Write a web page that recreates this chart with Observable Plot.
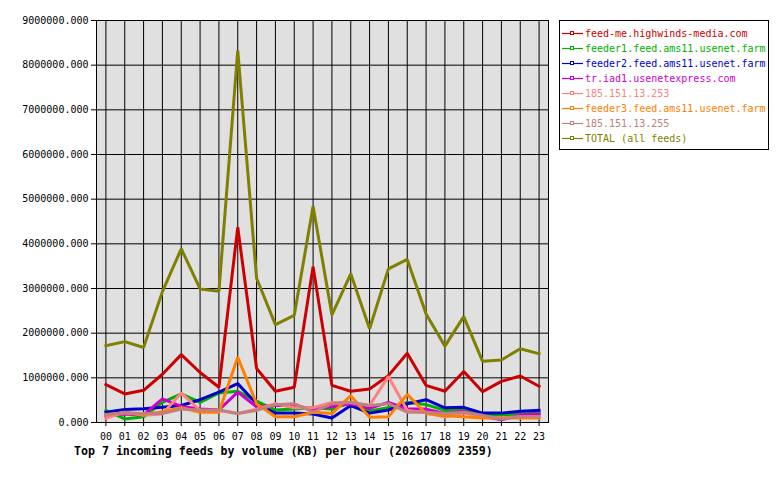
<!DOCTYPE html>
<html>
<head>
<meta charset="utf-8">
<script src="https://cdn.jsdelivr.net/npm/d3@7"></script>
<script src="https://cdn.jsdelivr.net/npm/@observablehq/plot@0.6"></script>
<style>
  html, body { margin: 0; padding: 0; background: #fff; }
  #wrap { position: relative; width: 780px; height: 480px; overflow: hidden; font-family: "DejaVu Sans Mono", monospace; }
  #title { position: absolute; left: 74px; top: 444px; font-size: 11.6px; font-weight: bold; white-space: nowrap; color: #000; }
  #legend { position: absolute; left: 559px; top: 20px; width: 210px; height: 130px; border: 1px solid #000; background: #fff; box-sizing: border-box; padding-top: 5px; }
  .row { height: 15px; display: flex; align-items: center; font-size: 10px; white-space: nowrap; }
  .row svg { margin-left: 2px; margin-right: 2px; flex: none; }
</style>
</head>
<body>
<div id="wrap">
  <div id="chart"></div>
  <div id="legend"></div>
  <div id="title">Top 7 incoming feeds by volume (KB) per hour (20260809 2359)</div>
</div>
<script>
const hours = d3.range(0, 24);
const hourLabels = ["00","01","02","03","04","05","06","07","08","09","10","11","12","13","14","15","16","17","18","19","20","21","22","23"];
const yTicks = [0, 1000000, 2000000, 3000000, 4000000, 5000000, 6000000, 7000000, 8000000, 9000000];

const seriesNames = [
  "feed-me.highwinds-media.com",
  "feeder1.feed.ams11.usenet.farm",
  "feeder2.feed.ams11.usenet.farm",
  "tr.iad1.usenetexpress.com",
  "185.151.13.253",
  "feeder3.feed.ams11.usenet.farm",
  "185.151.13.255",
  "TOTAL (all feeds)"
];
const seriesColors = ["#cc0000", "#00b000", "#0000cc", "#cc00cc", "#ff8080", "#ff8000", "#c08080", "#808000"];

const feedMe   = [850000,640000,720000,1080000,1520000,1120000,790000,4370000,1210000,700000,790000,3490000,830000,700000,750000,1050000,1550000,830000,700000,1140000,690000,920000,1040000,810000];
const feeder1  = [270000,80000,130000,450000,640000,450000,660000,700000,480000,280000,300000,330000,300000,450000,260000,330000,450000,400000,270000,280000,170000,170000,190000,210000];
const feeder2  = [230000,290000,310000,340000,380000,510000,680000,870000,420000,210000,210000,190000,100000,380000,210000,280000,420000,510000,330000,340000,210000,210000,250000,270000];
const trIad1   = [160000,190000,170000,530000,360000,300000,280000,680000,350000,380000,380000,300000,350000,420000,320000,450000,300000,300000,200000,250000,140000,60000,170000,190000];
const ip253    = [100000,230000,160000,190000,660000,270000,270000,200000,300000,420000,330000,330000,450000,450000,380000,1030000,270000,220000,120000,220000,120000,100000,130000,130000];
const feeder3  = [170000,220000,180000,240000,330000,230000,230000,1460000,420000,130000,130000,230000,200000,600000,120000,130000,630000,200000,150000,130000,100000,100000,100000,100000];
const ip255    = [180000,220000,200000,200000,300000,280000,280000,200000,270000,400000,420000,230000,420000,450000,380000,420000,230000,230000,200000,230000,160000,80000,130000,130000];
const total    = [1720000,1810000,1680000,2930000,3890000,2990000,2940000,8330000,3230000,2190000,2400000,4840000,2410000,3330000,2100000,3440000,3650000,2430000,1710000,2370000,1370000,1400000,1650000,1540000];

const seriesValues = [feedMe, feeder1, feeder2, trIad1, ip253, feeder3, ip255, total];

const table = seriesNames.map((name, i) => hours.map((h, j) => ({series: name, hour: h, value: seriesValues[i][j]})));

const chart = Plot.plot({
  width: 780,
  height: 480,
  marginLeft: 96,
  marginRight: 232,
  marginTop: 20,
  marginBottom: 58,
  style: {fontFamily: "DejaVu Sans Mono, monospace", fontSize: "10px", color: "#000", background: "transparent", overflow: "visible"},
  x: {domain: [-0.5, 23.5], label: null},
  y: {domain: [0, 9000000], label: null},
  marks: [
    Plot.frame({fill: "#e0e0e0", stroke: null}),
    Plot.gridX({ticks: hours, stroke: "#000", strokeOpacity: 1, strokeWidth: 1}),
    Plot.gridY({ticks: yTicks, stroke: "#000", strokeOpacity: 1, strokeWidth: 1}),
    Plot.axisX({ticks: hours, tickFormat: (d) => hourLabels[d], tickSize: 4, tickPadding: 6, label: null, stroke: "#000", fill: "#000"}),
    Plot.axisY({ticks: yTicks, tickFormat: d3.format(".3f"), tickSize: 5, tickPadding: 3, label: null, stroke: "#000", fill: "#000"}),
    ...table.map((rows, i) => Plot.lineY(rows, {x: "hour", y: "value", stroke: seriesColors[i], strokeWidth: 3, strokeLinejoin: "miter", strokeLinecap: "square"})),
    Plot.frame({stroke: "#000", strokeWidth: 1})
  ]
});
document.getElementById("chart").appendChild(chart);

const legend = document.getElementById("legend");
seriesNames.forEach((name, i) => {
  const row = document.createElement("div");
  row.className = "row";
  row.style.color = seriesColors[i];
  row.innerHTML = `<svg width="21" height="7" viewBox="0 0 21 7"><line x1="0" y1="3.5" x2="21" y2="3.5" stroke="${seriesColors[i]}" stroke-width="1.2"/><rect x="8.5" y="1.5" width="3" height="3" fill="#fff" stroke="${seriesColors[i]}" stroke-width="1"/></svg><span>${name}</span>`;
  legend.appendChild(row);
});
</script>
</body>
</html>
